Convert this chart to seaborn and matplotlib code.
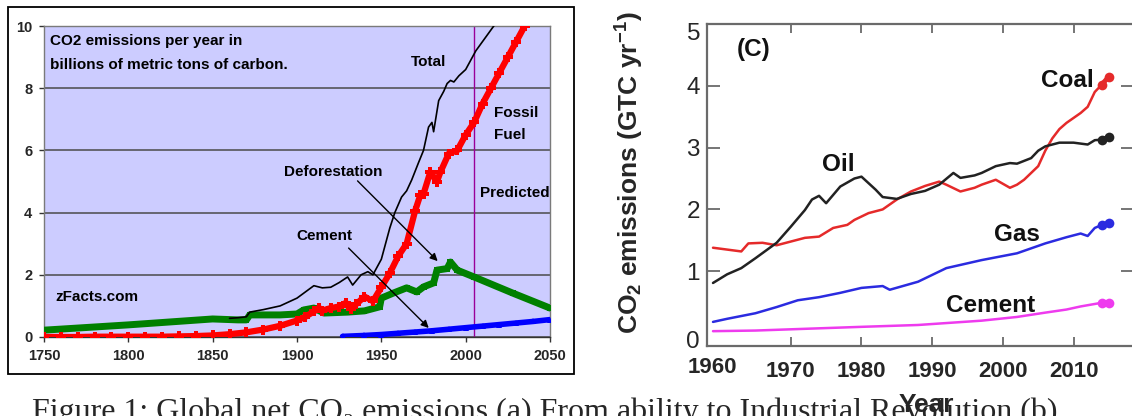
import matplotlib
matplotlib.use('Agg')
import matplotlib.pyplot as plt
import matplotlib.transforms as mtransforms
from matplotlib.patches import Rectangle
import seaborn as sns

# ---------------- Left panel data (zFacts) ----------------
fossil_years = [1750, 1760, 1770, 1780, 1790, 1800, 1810, 1820, 1830, 1840, 1850, 1860,
                1870, 1880, 1890, 1900, 1905, 1910, 1913, 1915, 1920, 1925, 1929, 1932,
                1935, 1940, 1945, 1950, 1955, 1960, 1965, 1970, 1973, 1975, 1979, 1983,
                1985, 1990, 1995, 2000, 2005, 2010, 2015, 2020, 2025, 2030, 2035]
fossil_vals = [0.0, 0.0, 0.0, 0.01, 0.01, 0.01, 0.01, 0.01, 0.02, 0.03, 0.05, 0.09,
               0.15, 0.24, 0.36, 0.53, 0.65, 0.82, 0.94, 0.85, 0.93, 0.98, 1.1, 0.9,
               1.05, 1.3, 1.15, 1.6, 2.05, 2.6, 3.0, 4.05, 4.55, 4.6, 5.3, 5.0,
               5.3, 5.9, 6.0, 6.5, 6.9, 7.5, 8.0, 8.5, 9.0, 9.5, 10.0]

total_years = [1860, 1865, 1870, 1872, 1880, 1890, 1900, 1905, 1910, 1915, 1920, 1925,
               1930, 1933, 1938, 1942, 1945, 1948, 1950, 1953, 1955, 1958, 1962, 1965,
               1968, 1972, 1975, 1978, 1980, 1981, 1984, 1987, 1989, 1991, 1993, 1996,
               2000, 2003, 2006, 2010, 2014, 2018]
total_vals = [0.6, 0.62, 0.65, 0.8, 0.88, 1.0, 1.25, 1.45, 1.65, 1.58, 1.6, 1.75,
              1.93, 1.67, 2.0, 2.1, 2.0, 2.3, 2.5, 3.1, 3.5, 4.0, 4.5, 4.7,
              5.05, 5.6, 6.0, 6.75, 6.9, 6.6, 7.6, 7.9, 8.15, 8.25, 8.2, 8.4,
              8.6, 8.9, 9.2, 9.5, 9.8, 10.1]

defor_years = [1750, 1800, 1850, 1865, 1870, 1872, 1890, 1900, 1904, 1910, 1916, 1930,
               1940, 1949, 1950, 1957, 1965, 1971, 1975, 1981, 1983, 1989, 1991, 1995,
               2005, 2028, 2050]
defor_vals = [0.22, 0.39, 0.58, 0.55, 0.55, 0.71, 0.71, 0.74, 0.87, 0.93, 0.77, 0.8,
              0.84, 0.97, 1.25, 1.41, 1.58, 1.45, 1.61, 1.74, 2.15, 2.2, 2.41, 2.15,
              1.93, 1.41, 0.93]

cementL_years = [1927, 1940, 1950, 1960, 1970, 1980, 1990, 2000, 2010, 2020, 2030, 2040, 2050]
cementL_vals = [0.02, 0.05, 0.08, 0.12, 0.16, 0.2, 0.25, 0.3, 0.35, 0.4, 0.45, 0.5, 0.56]

left_xticks = [1750, 1800, 1850, 1900, 1950, 2000, 2050]
left_yticks = [0, 2, 4, 6, 8, 10]
predicted_year = 2005

# ---------------- Right panel data (GTC / yr) ----------------
coal_years = [1959, 1961, 1963, 1964, 1966, 1968, 1970, 1972, 1974, 1976, 1978, 1979,
              1981, 1983, 1985, 1987, 1989, 1991, 1992, 1994, 1996, 1997, 1999, 2001,
              2002, 2003, 2005, 2006, 2007, 2008, 2009, 2011, 2012, 2013]
coal_vals = [1.38, 1.35, 1.32, 1.45, 1.46, 1.42, 1.48, 1.54, 1.56, 1.7, 1.75, 1.83,
             1.94, 2.0, 2.16, 2.29, 2.38, 2.45, 2.4, 2.29, 2.35, 2.4, 2.48, 2.35,
             2.4, 2.48, 2.7, 2.95, 3.15, 3.3, 3.4, 3.56, 3.66, 3.9]
coal_end = [4.02, 4.15]

oil_years = [1959, 1961, 1963, 1965, 1968, 1970, 1972, 1973, 1974, 1975, 1977, 1979,
             1980, 1982, 1983, 1985, 1987, 1989, 1991, 1993, 1994, 1996, 1997, 1999,
             2001, 2002, 2004, 2005, 2006, 2008, 2010, 2012, 2013]
oil_vals = [0.81, 0.95, 1.05, 1.21, 1.46, 1.72, 1.99, 2.16, 2.22, 2.1, 2.37, 2.5,
            2.53, 2.32, 2.2, 2.17, 2.25, 2.3, 2.4, 2.59, 2.51, 2.55, 2.59, 2.7,
            2.75, 2.74, 2.83, 2.95, 3.02, 3.08, 3.08, 3.05, 3.12]
oil_end = [3.13, 3.17]

gas_years = [1959, 1961, 1965, 1968, 1971, 1974, 1977, 1980, 1983, 1984, 1988, 1992,
             1997, 2002, 2006, 2009, 2011, 2012, 2013]
gas_vals = [0.18, 0.23, 0.32, 0.42, 0.53, 0.58, 0.65, 0.73, 0.76, 0.7, 0.83, 1.05,
            1.18, 1.29, 1.45, 1.55, 1.61, 1.57, 1.7]
gas_end = [1.75, 1.78]

cement_years = [1959, 1965, 1970, 1975, 1980, 1988, 1997, 2002, 2006, 2009, 2011, 2013]
cement_vals = [0.03, 0.04, 0.06, 0.08, 0.1, 0.13, 0.2, 0.26, 0.33, 0.38, 0.43, 0.47]
cement_end = [0.49, 0.49]

end_years = [2014, 2015]
right_xticks = [1960, 1970, 1980, 1990, 2000, 2010]
right_yticks = [0, 1, 2, 3, 4, 5]

caption = "Figure 1: Global net CO\u2082 emissions (a) From ability to Industrial Revolution (b)"

# ---------------- Styling ----------------
sns.set_theme(style='white')
plt.rcParams['font.family'] = ['Liberation Sans', 'DejaVu Sans']
plt.rcParams['mathtext.fontset'] = 'custom'
plt.rcParams['mathtext.rm'] = 'Liberation Sans'
plt.rcParams['mathtext.bf'] = 'Liberation Sans:bold'
plt.rcParams['mathtext.it'] = 'Liberation Sans:italic'

W, H = 1132, 416
fig = plt.figure(figsize=(W / 100, H / 100), dpi=100)
fig.patch.set_facecolor('white')


def fx(px):
    return px / W


def fy(py):
    return 1 - py / H


# outer frame of the left chart
fig.patches.append(Rectangle((fx(8), fy(374)), fx(574) - fx(8), fy(7) - fy(374),
                             transform=fig.transFigure, fill=False,
                             edgecolor='black', lw=1.3, zorder=0))

# ---------------- Left panel ----------------
ax1 = fig.add_axes([fx(44), fy(337), fx(550) - fx(44), fy(26) - fy(337)])
ax1.set_facecolor('#CCCCFF')
ax1.set_xlim(1750, 2050)
ax1.set_ylim(0, 10)
ax1.set_xticks(left_xticks)
ax1.set_yticks(left_yticks)
ax1.yaxis.grid(True, color='#4a4a4a', lw=1.1)
ax1.xaxis.grid(False)
ax1.set_axisbelow(True)
for s in ax1.spines.values():
    s.set_color('#7a7a7a')
    s.set_linewidth(1.0)
ax1.spines['bottom'].set_color('#333333')
ax1.tick_params(axis='both', direction='out', length=3.5, width=1.0, color='#333333',
                labelsize=10.5, pad=5, left=True, bottom=True)
for lab in ax1.get_xticklabels() + ax1.get_yticklabels():
    lab.set_fontweight('bold')

ax1.axvline(predicted_year, color='#990099', lw=1.0, zorder=1)

sns.lineplot(x=defor_years, y=defor_vals, ax=ax1, color='#008000', lw=5,
             marker='s', markersize=5, markeredgewidth=0, zorder=3)
sns.lineplot(x=cementL_years, y=cementL_vals, ax=ax1, color='#0000FF', lw=4,
             marker='^', markersize=5, markeredgewidth=0, zorder=3)
sns.lineplot(x=fossil_years, y=fossil_vals, ax=ax1, color='#FF0000', lw=4.5,
             marker='P', markersize=6.5, markeredgewidth=0, zorder=4)
sns.lineplot(x=total_years, y=total_vals, ax=ax1, color='black', lw=1.2, zorder=5)
ax1.set_xlabel('')
ax1.set_ylabel('')

tkw = dict(fontsize=11, fontweight='bold', color='black', zorder=6)
ax1.text(1753.6, 9.52, 'CO2 emissions per year in', ha='left', va='center', **tkw)
ax1.text(1753.6, 8.75, 'billions of metric tons of carbon.', ha='left', va='center', **tkw)
ax1.text(1977.8, 8.84, 'Total', ha='center', va='center', **tkw)
ax1.text(2016.7, 7.2, 'Fossil', ha='left', va='center', **tkw)
ax1.text(2016.7, 6.5, 'Fuel', ha='left', va='center', **tkw)
ax1.text(2008.4, 4.63, 'Predicted', ha='left', va='center', **tkw)
ax1.text(1921.7, 5.31, 'Deforestation', ha='center', va='center', **tkw)
ax1.text(1916.3, 3.25, 'Cement', ha='center', va='center', **tkw)
ax1.text(1756.5, 1.29, 'zFacts.com', ha='left', va='center', **tkw)

akw = dict(arrowstyle='-|>', color='black', lw=1.0, mutation_scale=11, shrinkA=0, shrinkB=0)
ax1.annotate('', xy=(1983.4, 2.44), xytext=(1935.9, 5.02), arrowprops=akw, zorder=6)
ax1.annotate('', xy=(1978.1, 0.29), xytext=(1930.6, 2.86), arrowprops=akw, zorder=6)

# ---------------- Right panel ----------------
ax2 = fig.add_axes([fx(707), fy(346), 427 / W, fy(24) - fy(346)])
ax2.set_facecolor('white')
ax2.set_xlim(1958.15, 2018.55)
ax2.set_ylim(-0.21, 5)
ax2.set_xticks(right_xticks)
ax2.set_yticks(right_yticks)
ax2.grid(False)
for s in ax2.spines.values():
    s.set_color('#6a6a6a')
    s.set_linewidth(1.6)
ax2.tick_params(axis='x', direction='in', length=6.5, width=1.3, color='#6a6a6a',
                top=True, bottom=True, labelsize=16, pad=11)
ax2.tick_params(axis='y', direction='in', length=9.5, width=1.3, color='#6a6a6a',
                left=True, right=True, labelsize=17.5, pad=5)
for lab in ax2.get_xticklabels():
    lab.set_fontweight('bold')
xt = ax2.xaxis.get_major_ticks()
xt[0].tick1line.set_visible(False)
xt[0].tick2line.set_visible(False)
yt = ax2.yaxis.get_major_ticks()
for i in (0, 5):
    yt[i].tick1line.set_visible(False)
    yt[i].tick2line.set_visible(False)

xl = ax2.get_xticklabels()
xl[0].set_transform(xl[0].get_transform() +
                    mtransforms.ScaledTranslation(-0.08, 0.04, fig.dpi_scale_trans))
yl = ax2.get_yticklabels()
yl[0].set_transform(yl[0].get_transform() +
                    mtransforms.ScaledTranslation(0, -0.06, fig.dpi_scale_trans))
yl[5].set_transform(yl[5].get_transform() +
                    mtransforms.ScaledTranslation(0, -0.08, fig.dpi_scale_trans))

series = [
    (cement_years, cement_vals, cement_end, '#EE3BEE'),
    (gas_years, gas_vals, gas_end, '#2B2BE0'),
    (coal_years, coal_vals, coal_end, '#E52A2A'),
    (oil_years, oil_vals, oil_end, '#222222'),
]
for yrs, vals, endv, col in series:
    sns.lineplot(x=yrs + end_years, y=vals + endv, ax=ax2, color=col, lw=1.8)
    sns.lineplot(x=end_years, y=endv, ax=ax2, color=col, lw=3.5, marker='o',
                 markersize=7, markeredgewidth=0)
ax2.set_xlabel('')
ax2.set_ylabel('')

rkw = dict(fontsize=17.5, fontweight='bold', color='#111111', ha='center', va='center')
ax2.text(1964.8, 4.58, '(C)', **rkw)
ax2.text(1976.7, 2.72, 'Oil', **rkw)
ax2.text(2009.1, 4.09, 'Coal', **rkw)
ax2.text(2002.0, 1.59, 'Gas', **rkw)
ax2.text(1998.3, 0.45, 'Cement', **rkw)

fig.text(fx(630), fy(173), r'CO$_\mathbf{2}$ emissions (GTC yr$^\mathbf{-1}$)',
         rotation=90, fontsize=19, fontweight='bold', ha='center', va='center')
fig.text(fx(926), fy(412), 'Year', fontsize=19, fontweight='bold',
         ha='center', va='baseline', zorder=5)

# caption: only its upper part lies inside the picture, as in the reference
fig.text(fx(32), fy(420), caption, fontsize=23, ha='left', va='baseline', zorder=1,
         family=['Liberation Serif', 'DejaVu Serif'])

fig.savefig('out.png', dpi=100)
